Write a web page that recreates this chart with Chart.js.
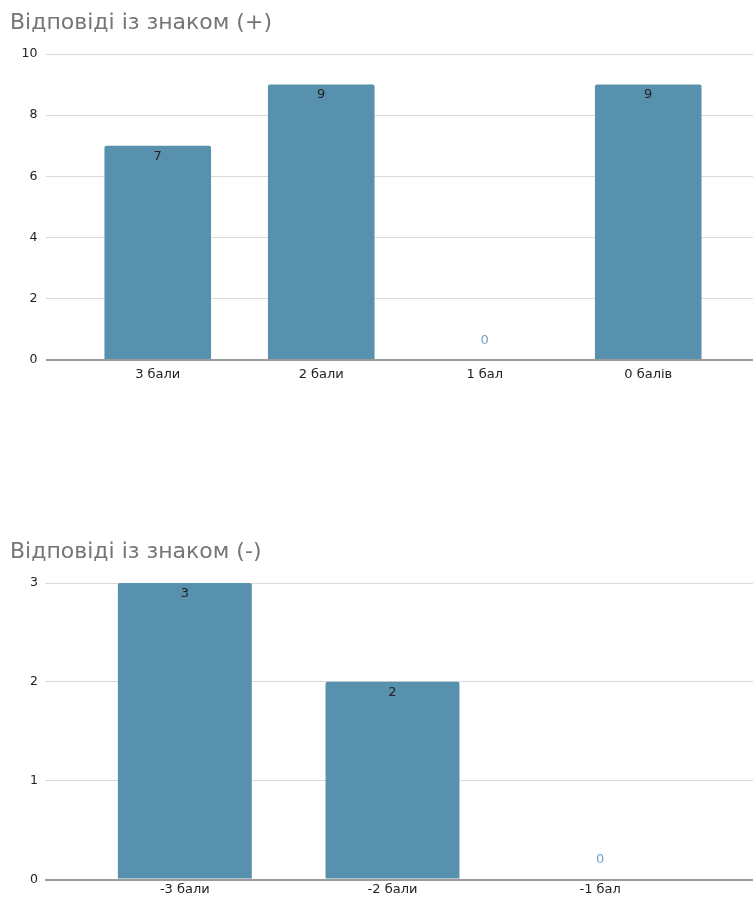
<!DOCTYPE html>
<html>
<head>
<meta charset="utf-8">
<script src="https://cdn.jsdelivr.net/npm/chart.js@4.4.1/dist/chart.umd.min.js"></script>
<style>
  html, body { margin: 0; padding: 0; background: #fff; width: 753px; height: 897px; overflow: hidden; }
  canvas { position: absolute; left: 0; }
  #plus { top: 0; }
  #minus { top: 529px; }
</style>
</head>
<body>
<canvas id="plus" width="753" height="400"></canvas>
<canvas id="minus" width="753" height="368"></canvas>
<script>
// Answers with the (+) sign
const plusTitle = 'Відповіді із знаком (+)';
const plusCategories = ['3 бали', '2 бали', '1 бал', '0 балів'];
const plusCounts = [7, 9, 0, 9];
const plusTicks = [0, 2, 4, 6, 8, 10];

// Answers with the (-) sign
const minusTitle = 'Відповіді із знаком (-)';
const minusCategories = ['-3 бали', '-2 бали', '-1 бал'];
const minusCounts = [3, 2, 0];
const minusTicks = [0, 1, 2, 3];

const FONT = '"DejaVu Sans", "Liberation Sans", Arial, sans-serif';
const BAR_COLOR = '#5891ad';
const ZERO_LABEL_COLOR = '#6fa3c3';
const GRID_COLOR = '#dadada';
const BASE_COLOR = '#9a9a9a';

Chart.defaults.font.family = FONT;
Chart.defaults.color = '#222';

// Writes each bar's value inside its top edge; empty bars get a light label above the baseline.
const valueLabels = {
  id: 'valueLabels',
  afterDatasetsDraw(chart) {
    const ctx = chart.ctx;
    const meta = chart.getDatasetMeta(0);
    const values = chart.data.datasets[0].data;
    ctx.save();
    ctx.font = '13px ' + FONT;
    ctx.textAlign = 'center';
    meta.data.forEach((bar, i) => {
      const v = values[i];
      if (v === 0) {
        ctx.fillStyle = ZERO_LABEL_COLOR;
        ctx.textBaseline = 'middle';
        ctx.fillText(String(v), bar.x, bar.base - 19.5);
      } else {
        ctx.fillStyle = '#222';
        ctx.textBaseline = 'middle';
        ctx.fillText(String(v), bar.x, bar.y + 10.5);
      }
    });
    ctx.restore();
  }
};

function gridColor(c) { return c.tick && c.tick.value === 0 ? BASE_COLOR : GRID_COLOR; }
function gridWidth(c) { return c.tick && c.tick.value === 0 ? 2 : 1; }

function makeChart(id, title, categories, counts, ticks, geo) {
  const min = ticks[0];
  const max = ticks[ticks.length - 1];
  const step = ticks[1] - ticks[0];
  return new Chart(document.getElementById(id), {
    type: 'bar',
    data: {
      labels: categories,
      datasets: [{
        data: counts,
        backgroundColor: BAR_COLOR,
        borderRadius: 2,
        categoryPercentage: 1,
        barPercentage: geo.bar
      }]
    },
    options: {
      responsive: false,
      animation: false,
      events: [],
      layout: { padding: { left: 10, right: 0, top: 0, bottom: 0 } },
      plugins: {
        legend: { display: false },
        tooltip: { enabled: false },
        title: {
          display: true,
          text: title,
          align: 'start',
          color: '#757575',
          font: { size: 22, weight: 'normal', family: FONT },
          padding: { top: 10.5, bottom: 17.1 }
        }
      },
      scales: {
        x: {
          grid: { display: false, drawTicks: false },
          border: { display: false },
          ticks: { font: { size: 13 }, color: '#222', padding: geo.xPad },
          afterFit: s => { s.height = geo.xHeight; }
        },
        y: {
          position: 'left',
          min, max,
          ticks: { stepSize: step, font: { size: 12.5 }, color: '#222', padding: geo.yPad },
          grid: { color: gridColor, lineWidth: gridWidth, tickLength: geo.tickLen, drawTicks: true },
          border: { display: false },
          afterFit: s => { s.width = geo.leftWidth; }
        },
        yRight: {
          position: 'right',
          min, max,
          ticks: { stepSize: step, display: false },
          grid: { color: gridColor, lineWidth: gridWidth, drawOnChartArea: false, drawTicks: true, tickLength: geo.rightWidth + 1 },
          border: { display: false },
          afterFit: s => { s.width = geo.rightWidth; }
        }
      }
    },
    plugins: [valueLabels]
  });
}

makeChart('plus', plusTitle, plusCategories, plusCounts, plusTicks, {
  bar: 0.652, leftWidth: 66, tickLen: 30, yPad: 8.5, rightWidth: 23, xHeight: 40, xPad: 7
});
makeChart('minus', minusTitle, minusCategories, minusCounts, minusTicks, {
  bar: 0.645, leftWidth: 71, tickLen: 36, yPad: 7, rightWidth: 49, xHeight: 17.5, xPad: 2.5
});
</script>
</body>
</html>
